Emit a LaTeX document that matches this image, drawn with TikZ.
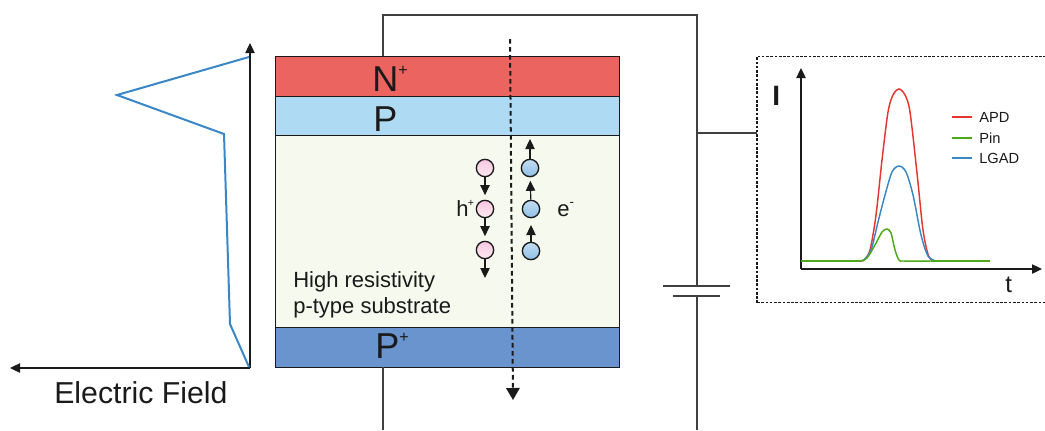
\documentclass[tikz,border=0pt]{standalone}
\usepackage{fontspec}
\setmainfont{Liberation Sans}
\usetikzlibrary{
	arrows.meta,
	positioning
}
\definecolor{nlayer}{HTML}{EB6460}
\definecolor{player}{HTML}{AFDAF3}
\definecolor{bulklayer}{HTML}{F5F9EE}
\definecolor{pluslayer}{HTML}{6A94CE}
\definecolor{wirecol}{HTML}{404040}
\definecolor{inkcol}{HTML}{1A1A1A}
\definecolor{apdcol}{HTML}{E5352F}
\definecolor{pincol}{HTML}{4CA81A}
\definecolor{lgadcol}{HTML}{3A87C8}
\definecolor{holetop}{HTML}{F9C6E0}
\definecolor{holelow}{HTML}{FCEAF2}
\definecolor{electop}{HTML}{8FC0E6}
\definecolor{eleclow}{HTML}{C4DEF2}
\newcommand{\suptext}[1]{\raisebox{.42em}{\fontsize{12}{12}\selectfont #1}}

\begin{document}
\begin{tikzpicture}[
		x=0.75pt, y=-0.75pt,
		layer/.style={draw=inkcol, line width=0.7pt, minimum width=258pt, inner sep=0pt, outer sep=0pt},
		biglabel/.style={anchor=base west, inner sep=0pt, text=inkcol, font=\fontsize{27}{27}\selectfont},
		midlabel/.style={anchor=base west, inner sep=0pt, text=inkcol, font=\fontsize{16.5}{19.5}\selectfont},
		legendlabel/.style={anchor=west, inner sep=0pt, text=inkcol, font=\fontsize{11}{11}\selectfont},
		hole/.style={circle, draw=inkcol, line width=1pt, minimum size=13pt, inner sep=0pt, top color=holetop, bottom color=holelow},
		electron/.style={circle, draw=inkcol, line width=1pt, minimum size=13pt, inner sep=0pt, top color=eleclow, bottom color=electop},
		carrier/.style={-{Triangle[length=7.5pt,width=7pt]}, line width=0.9pt, color=inkcol},
		axis/.style={-{Triangle[length=7.5pt,width=7pt]}, line width=0.9pt, color=inkcol},
		wire/.style={line width=0.9pt, color=wirecol},
		trace/.style={line width=1.1pt, smooth}
		]
		\useasboundingbox (0,0) rectangle (1045,430);
		
		% =========================
		% Sensor layers
		% =========================
		\node[layer, fill=nlayer, minimum height=30pt] (nplus) at (447,76) {};
		\node[layer, fill=player, minimum height=29.25pt, below=0pt of nplus] (pgain) {};
		\node[layer, fill=bulklayer, minimum height=144pt, below=0pt of pgain] (bulk) {};
		\node[layer, fill=pluslayer, minimum height=30pt, below=0pt of bulk] (pplus) {};
		
		\node[biglabel] (nlabel) at (372,91) {N\suptext{+}};
		\node[biglabel] (plabel) at (373,131) {P};
		\node[biglabel] (pluslabel) at (375,358) {P\suptext{+}};
		\node[midlabel, align=left] (bulklabel) at (293,313) {High resistivity\\p-type substrate};
		
		% =========================
		% Bias circuit
		% =========================
		\coordinate (topleft) at (383,15);
		\coordinate (topright) at (697,15);
		\coordinate (platetop) at (697,286);
		\coordinate (platelow) at (697,296);
		\coordinate (platetopa) at (663,286);
		\coordinate (platetopb) at (730,286);
		\coordinate (platelowa) at (673,296);
		\coordinate (platelowb) at (720,296);
		\coordinate (wirelow) at (697,430);
		\coordinate (wireback) at (383,430);
		\coordinate (branch) at (697,133);
		\coordinate (nwire) at (383,56);
		\coordinate (pwire) at (383,367);
		
		\draw[wire] (nwire) -- (topleft) -- (topright) -- (platetop);
		\draw[wire] (platetopa) -- (platetopb);
		\draw[wire] (platelowa) -- (platelowb);
		\draw[wire] (platelow) -- (wirelow);
		\draw[wire] (pwire) -- (wireback);
		
		% =========================
		% Particle track and carriers
		% =========================
		\coordinate (trackstart) at (510,39);
		\coordinate (trackend) at (513,400);
		\draw[line width=1.5pt, color=inkcol, dash pattern=on 3.5pt off 2.5pt, -{Triangle[length=9pt,width=10pt]}] (trackstart) -- (trackend);
		
		\node[hole] (hole1) at (485,168) {};
		\node[hole] (hole2) at (485,209) {};
		\node[hole] (hole3) at (485,250) {};
		\node[electron] (elec1) at (530,168) {};
		\node[electron] (elec2) at (531,209) {};
		\node[electron] (elec3) at (531,251) {};
		\coordinate (holeend) at (485,278);
		\coordinate (elecend) at (530,139);
		
		\draw[carrier, shorten >=3.4pt] (hole1) -- (hole2);
		\draw[carrier, shorten >=3.4pt] (hole2) -- (hole3);
		\draw[carrier] (hole3) -- (holeend);
		\draw[carrier] (elec1) -- (elecend);
		\draw[carrier, shorten >=2.6pt] (elec2) -- (elec1);
		\draw[carrier, shorten >=5pt] (elec3) -- (elec2);
		
		\node[midlabel] (hlabel) at (456,216) {h\suptext{\kern-.5pt\fontsize{8}{8}\selectfont +}};
		\node[midlabel] (elabel) at (557,216) {e\suptext{\fontsize{10}{10}\selectfont -}};
		
		% =========================
		% Electric field profile
		% =========================
		\coordinate (fieldorigin) at (250,368);
		\coordinate (fieldtop) at (250,43);
		\coordinate (fieldleft) at (10,368);
		\draw[axis] (fieldorigin) -- (fieldtop);
		\draw[axis] (fieldorigin) -- (fieldleft);
		\draw[line width=1.5pt, color=lgadcol] (249,57) -- (117,95) -- (224,134) -- (230,324) -- (249,367);
		\node[biglabel, font=\fontsize{22.7}{22.7}\selectfont] (fieldlabel) at (54,403) {Electric Field};
		
		% =========================
		% Current pulses
		% =========================
		\node[draw=inkcol, dash pattern=on 2pt off 1.2pt, line width=0.8pt, minimum width=217.5pt, minimum height=185pt, inner sep=0pt, outer sep=0pt] (scope) at (902,179.5) {};
		\draw[wire] (branch) -- (branch -| scope.west);
		
		\coordinate (plotorigin) at (801,269);
		\coordinate (plottop) at (801,68);
		\coordinate (plotright) at (1042,269);
		\draw[axis] (plotorigin) -- (plottop);
		\draw[axis] (plotorigin) -- (plotright);
		\node[biglabel, font=\fontsize{21}{21}\selectfont\bfseries] (ilabel) at (772,105) {I};
		\node[midlabel, font=\fontsize{18}{18}\selectfont] (tlabel) at (1005,292) {t};
		
		\draw[trace, color=apdcol] plot coordinates {(858,261) (864,260) (870,250) (876,215) (882,160) (888,112) (893,95) (899,89) (905,95) (910,112) (917,173) (923,230) (929,257) (936,261)};
		\draw[trace, color=lgadcol] plot coordinates {(863,261) (871,250) (878,222) (885,195) (892,172) (899,166) (906,172) (913,195) (921,235) (928,256) (936,261)};
		\draw[trace, color=pincol] (801,261) -- (860,261);
		\draw[trace, color=pincol] (931,261) -- (990,261);
		\draw[trace, color=pincol] plot coordinates {(860,261) (867,258) (875,245) (882,232) (887,229) (891,233) (895,250) (899,260) (904,261) (931,261)};
		
		\node[legendlabel] (apdlabel) at (979,117) {APD};
		\node[legendlabel] (pinlabel) at (979,138) {Pin};
		\node[legendlabel] (lgadlabel) at (979,158) {LGAD};
		\coordinate (apdline) at (952,117);
		\coordinate (pinline) at (952,138);
		\coordinate (lgadline) at (952,158);
		\draw[line width=1.5pt, color=apdcol] (apdline) -- ++(20,0);
		\draw[line width=1.5pt, color=pincol] (pinline) -- ++(20,0);
		\draw[line width=1.5pt, color=lgadcol] (lgadline) -- ++(20,0);
		
	\end{tikzpicture}
\end{document}
